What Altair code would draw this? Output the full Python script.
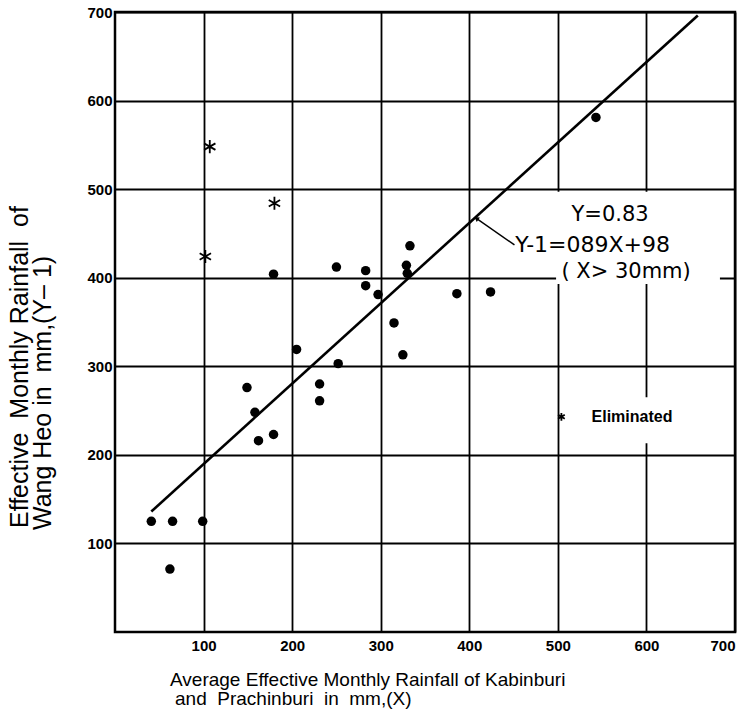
import altair as alt
import pandas as pd

# ---- data ----
dot_x = [41, 65, 99, 62, 149, 158, 162, 179, 205, 231, 231, 252, 315, 325,
         179, 250, 283, 283, 297, 333, 329, 330, 543, 386, 424]
dot_y = [125, 125, 125, 71, 276, 248, 216, 223, 319, 280, 261, 303, 349, 313,
         404, 412, 408, 391, 381, 436, 414, 405, 581, 382, 384]

star_x = [107, 180, 102]
star_y = [548, 484, 424]

line_x = [41, 658]
line_y = [136, 696]

tick_values = [100, 200, 300, 400, 500, 600, 700]

NB = "\u00a0"
x_title = ["Average Effective Monthly Rainfall of Kabinburi",
           f"and{NB}{NB}Prachinburi{NB}{NB}in{NB}{NB}mm,(X)"]
y_title = [f"Effective{NB}{NB}Monthly Rainfall{NB}{NB}of", f"Wang Heo in{NB}{NB}mm,(Y–{NB}1)"]

eq_lines = ["Y=0.83", "Y-1=089X+98", f"({NB}X>{NB}30mm)"]
eq_x = [559, 452, 577]
eq_y = [471, 437, 407]
eq_align = ["center", "left", "center"]

arrow_x = [451, 408]
arrow_y = [437, 467]

legend_star_x = [504]
legend_star_y = [243]
legend_text = ["Eliminated"]
legend_text_x = [538]

box_x = [498, 536]
box_x2 = [683, 640]
box_y = [393, 213]
box_y2 = [497, 265]

# ---- scales ----
xs = alt.Scale(domain=[0, 700], nice=False, zero=False)
ys = alt.Scale(domain=[0, 700], nice=False, zero=False)

base_axis = dict(values=tick_values, grid=True, gridColor="black", gridWidth=1.8,
                 gridOpacity=1, domain=False, ticks=False, labelFontSize=15,
                 labelFont="Liberation Sans", labelFontWeight="bold",
                 labelColor="black", title=None)

X = alt.X("x:Q", scale=xs, axis=alt.Axis(labelPadding=6, **base_axis))
Y = alt.Y("y:Q", scale=ys, axis=alt.Axis(labelPadding=3, **base_axis))

boxes = alt.Chart(pd.DataFrame({"x": box_x, "x2": box_x2, "y": box_y, "y2": box_y2})).mark_rect(
    color="white").encode(x=X, x2="x2:Q", y=Y, y2="y2:Q")

reg = alt.Chart(pd.DataFrame({"x": line_x, "y": line_y})).mark_line(
    color="black", strokeWidth=2.6).encode(x=X, y=Y)

dots = alt.Chart(pd.DataFrame({"x": dot_x, "y": dot_y})).mark_point(
    shape="circle", filled=True, color="black", size=90, opacity=1).encode(x=X, y=Y)

star_path = "M0,-1L0,1M-0.87,-0.5L0.87,0.5M-0.87,0.5L0.87,-0.5"
stars = alt.Chart(pd.DataFrame({"x": star_x, "y": star_y})).mark_point(
    shape=star_path, filled=False, color="black", strokeWidth=1.8, size=170,
    opacity=1).encode(x=X, y=Y)

eq_df = pd.DataFrame({"x": eq_x, "y": eq_y, "t": eq_lines, "a": eq_align})
eq_center = alt.Chart(eq_df[eq_df.a == "center"]).mark_text(
    font="DejaVu Sans", fontSize=21, align="center", baseline="middle", color="black"
).encode(x=X, y=Y, text="t:N")
eq_left = alt.Chart(eq_df[eq_df.a == "left"]).mark_text(
    font="DejaVu Sans", fontSize=22, align="left", baseline="middle", color="black"
).encode(x=X, y=Y, text="t:N")

arrow_line = alt.Chart(pd.DataFrame({"x": arrow_x, "y": arrow_y})).mark_line(
    color="black", strokeWidth=1.4).encode(x=X, y=Y)
arrow_head = alt.Chart(pd.DataFrame({"x": arrow_x[1:], "y": arrow_y[1:]})).mark_point(
    shape="triangle-up", filled=True, color="black", size=30, angle=305, opacity=1
).encode(x=X, y=Y)

leg_star = alt.Chart(pd.DataFrame({"x": legend_star_x, "y": legend_star_y})).mark_point(
    shape=star_path, filled=False, color="black", strokeWidth=1.8, size=60, opacity=1
).encode(x=X, y=Y)
leg_text = alt.Chart(pd.DataFrame({"x": legend_text_x, "y": legend_star_y, "t": legend_text})).mark_text(
    font="Liberation Sans", fontSize=16, fontWeight="bold", align="left", baseline="middle",
    color="black").encode(x=X, y=Y, text="t:N")

title_df = pd.DataFrame({"t": ["x"]})
xt1 = alt.Chart(title_df).mark_text(
    text=x_title[0], font="Liberation Sans", fontSize=19, align="left", baseline="middle",
    color="black").encode(x=alt.value(55), y=alt.value(668))
xt2 = alt.Chart(title_df).mark_text(
    text=x_title[1], font="Liberation Sans", fontSize=19, align="left", baseline="middle",
    color="black").encode(x=alt.value(60), y=alt.value(687))
yt1 = alt.Chart(title_df).mark_text(
    text=y_title[0], font="Liberation Sans", fontSize=25, align="left", baseline="middle",
    angle=270, color="black").encode(x=alt.value(-95), y=alt.value(516))
yt2 = alt.Chart(title_df).mark_text(
    text=y_title[1], font="Liberation Sans", fontSize=25, align="left", baseline="middle",
    angle=270, color="black").encode(x=alt.value(-72), y=alt.value(518))

chart = alt.layer(
    boxes, reg, dots, stars, eq_center, eq_left, arrow_line, arrow_head,
    leg_star, leg_text, xt1, xt2, yt1, yt2
).properties(
    width=620, height=620,
    autosize=alt.AutoSizeParams(type="none"),
    padding={"left": 115, "top": 12, "right": 18, "bottom": 79},
    background="white",
).configure_view(stroke="black", strokeWidth=2.5)

chart.save("out.html", embed_options={"renderer": "svg", "actions": False})
